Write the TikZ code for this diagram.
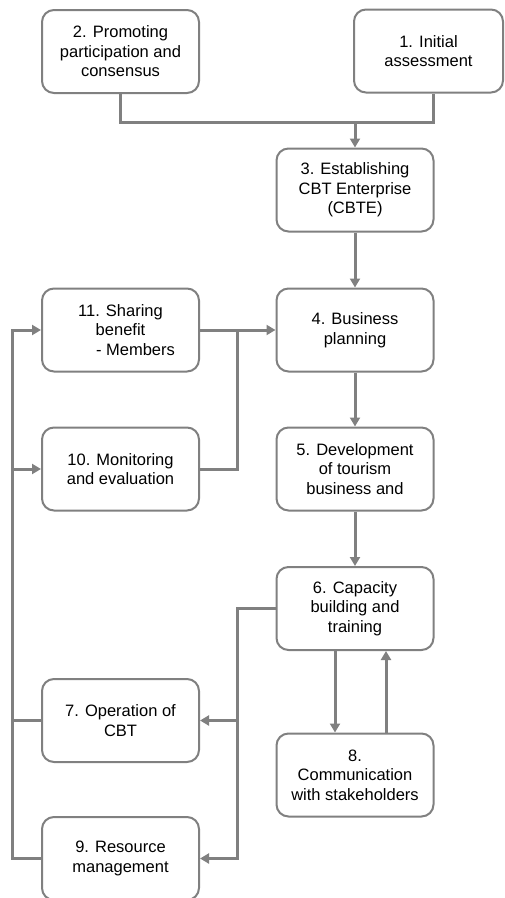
\documentclass[tikz,border=0pt]{standalone}
\usepackage{fontspec}
\setmainfont{Liberation Sans}
\usepackage{tikz}
\usetikzlibrary{arrows.meta}
\definecolor{linegray}{RGB}{128,128,128}

\begin{document}
\begin{tikzpicture}
  [x=1pt,y=-1pt,
   every node/.style={draw=linegray,line width=2pt,rounded corners=12pt,
     minimum width=157pt,minimum height=83pt,align=center,
     font=\fontsize{16.5}{19.5}\selectfont},
   link/.style={draw=linegray,line width=3pt},
   arr/.style={link,-{Triangle[length=9pt,width=10pt]}}]
  \useasboundingbox (0,0) rectangle (504,898);
  \node (n2) at (120.5,51.5) {2. Promoting\\participation and\\consensus};
  \node[minimum width=149pt] (n1) at (428.5,51) {1. Initial\\assessment};
  \node (n3) at (355,190) {3. Establishing\\CBT Enterprise\\(CBTE)};
  \node (n4) at (355,330) {4. Business\\planning};
  \node (n11) at (120.5,330) {11. Sharing\\benefit\\\hspace*{30pt}- Members};
  \node (n10) at (120.5,469) {10. Monitoring\\and evaluation};
  \node (n5) at (355,469) {5. Development\\of tourism\\business and};
  \node (n6) at (355,608.5) {6. Capacity\\building and\\training};
  \node (n7) at (120.5,720.5) {7. Operation of\\CBT};
  \node (n8) at (355,775) {8.\\Communication\\with stakeholders};
  \node (n9) at (120.5,858.5) {9. Resource\\management};

  \coordinate (j1) at (355,122);
  \coordinate (n1s) at ([xshift=5pt]n1.south);
  \coordinate (j2) at (237,330);
  \coordinate (lb) at (12,0);
  \coordinate (rb) at (237,0);

  \draw[link] (n2.south) |- (j1) -| (n1s);
  \draw[arr] (j1) -- (n3);
  \foreach \from/\to in {n3/n4,n4/n5,n5/n6}
    \draw[arr] (\from) -- (\to);
  \draw[arr] (n11) -- (n4);
  \draw[link] (n10.east) -| (j2);
  \draw[arr] (n9.west) -| (lb |- n11) -- (n11.west);
  \draw[arr] (n10.west -| lb) -- (n10.west);
  \draw[link] (n7.west) -- (n7.west -| lb);
  \draw[arr] (n6.west) -| (rb |- n9) -- (n9.east);
  \draw[arr] (n7.east -| rb) -- (n7.east);
  \draw[arr] ([xshift=-20pt]n6.south) -- ([xshift=-20pt]n8.north);
  \draw[arr] ([xshift=31pt]n8.north) -- ([xshift=31pt]n6.south);

\end{tikzpicture}
\end{document}
